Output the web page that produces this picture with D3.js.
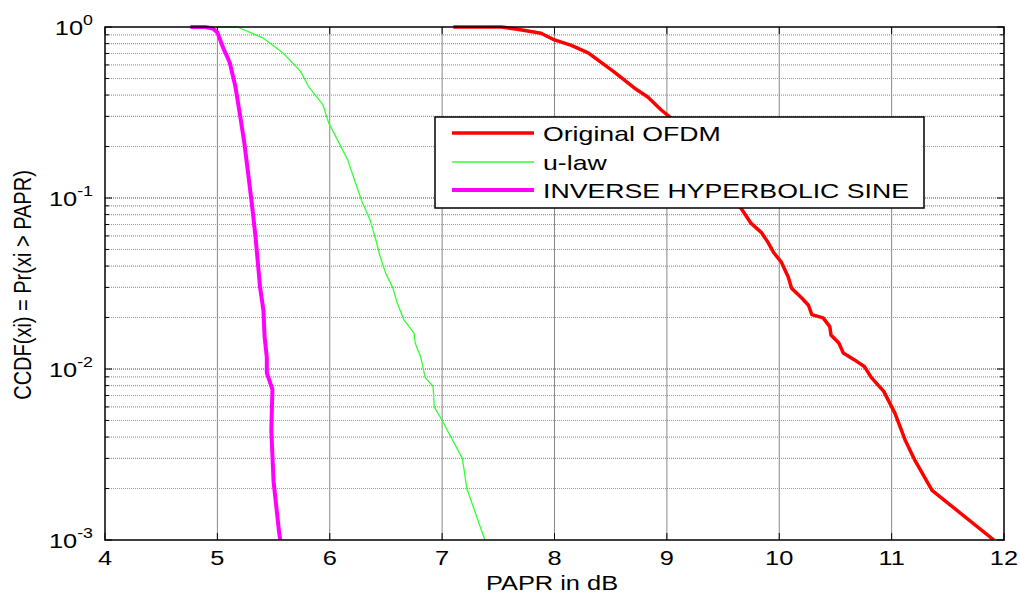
<!DOCTYPE html>
<html><head><meta charset="utf-8">
<script src="https://cdn.jsdelivr.net/npm/d3@7"></script>
<style>body{margin:0;background:#fff}svg{display:block}text{font-family:"Liberation Sans",Arial,sans-serif;fill:#000}</style>
</head><body><svg id="c" width="1020" height="595"></svg>
<script>
const xTicks = [4,5,6,7,8,9,10,11,12];
const yDecades = [0,-1,-2,-3];
const seriesNames = ["Original OFDM","u-law","INVERSE HYPERBOLIC SINE"];
const seriesColors = ["#ff0000","#33ff33","#ff00ff"];
const seriesWidths = [3.5,1.3,4];

const ofdmX = [7.10,7.53,7.67,7.88,8.00,8.15,8.30,8.53,8.62,8.71,8.83,8.95,9.02,9.35,9.66,9.75,9.84,9.90,9.95,10.02,10.08,10.11,10.20,10.26,10.29,10.39,10.45,10.46,10.53,10.57,10.67,10.76,10.82,10.93,11.03,11.12,11.21,11.36,11.91];
const ofdmY = [1,1,0.97,0.92,0.84,0.78,0.705,0.546,0.49,0.44,0.39,0.327,0.30,0.156,0.087,0.071,0.063,0.055,0.048,0.042,0.0345,0.0297,0.026,0.0236,0.0208,0.0199,0.0177,0.0158,0.0142,0.0124,0.0113,0.0103,0.0089,0.0074,0.0055,0.00385,0.0029,0.00195,0.001];

const ulawX = [5.00,5.18,5.41,5.59,5.74,5.81,5.94,5.99,6.07,6.16,6.23,6.29,6.36,6.41,6.45,6.50,6.56,6.60,6.66,6.75,6.76,6.81,6.85,6.92,6.93,7.00,7.18,7.22,7.38];
const ulawY = [1,1,0.86,0.70,0.55,0.45,0.35,0.275,0.218,0.167,0.122,0.094,0.074,0.057,0.045,0.036,0.030,0.0244,0.0194,0.0162,0.0142,0.0117,0.0089,0.0079,0.006,0.005,0.003,0.002,0.001];

const ihsX = [4.76,4.89,4.96,5.00,5.05,5.11,5.16,5.20,5.24,5.27,5.31,5.34,5.36,5.38,5.41,5.42,5.44,5.44,5.49,5.48,5.50,5.55,5.56];
const ihsY = [1,1,0.98,0.93,0.76,0.62,0.45,0.31,0.21,0.146,0.089,0.059,0.042,0.030,0.022,0.0155,0.0117,0.0095,0.0076,0.0044,0.0022,0.0011,0.001];

const svg = d3.select("#c");
const L=105,R=1004,T=27,B=540;
const SX = 1.27;
const x = d3.scaleLinear().domain([4,12]).range([L,R]);
const y = d3.scaleLog().domain([1e-3,1]).range([B,T]);

function stretchedText(parent, px, py, anchor, size){
  return parent.append("text").attr("transform",`translate(${px},${py}) scale(${SX},1)`)
    .attr("text-anchor",anchor).attr("font-size",size);
}

// grid
const minor = [];
yDecades.slice(1).forEach(d=>{for(let m=1;m<=9;m++) minor.push(m*Math.pow(10,d));});
const g = svg.append("g");
g.selectAll("line.hm").data(minor.filter(v=>v<1 && v>1e-3)).join("line")
  .attr("x1",L).attr("x2",R).attr("y1",d=>y(d)).attr("y2",d=>y(d))
  .attr("stroke",d=>Math.abs(Math.log10(d)-Math.round(Math.log10(d)))<1e-9?"#444":"#9a9a9a")
  .attr("stroke-width",1.2).attr("stroke-dasharray","1,1");
g.selectAll("line.v").data(xTicks.slice(1,-1)).join("line")
  .attr("x1",d=>x(d)).attr("x2",d=>x(d)).attr("y1",T).attr("y2",B)
  .attr("stroke","#888").attr("stroke-width",1);

// ticks inside
const tk = svg.append("g").attr("stroke","#000").attr("stroke-width",1);
xTicks.forEach(v=>{tk.append("line").attr("x1",x(v)).attr("x2",x(v)).attr("y1",B).attr("y2",B-7);
  tk.append("line").attr("x1",x(v)).attr("x2",x(v)).attr("y1",T).attr("y2",T+7);});
minor.concat([1]).forEach(v=>{const len=(Math.abs(Math.log10(v)-Math.round(Math.log10(v)))<1e-9)?7:4;
  tk.append("line").attr("x1",L).attr("x2",L+len).attr("y1",y(v)).attr("y2",y(v));
  tk.append("line").attr("x1",R).attr("x2",R-len).attr("y1",y(v)).attr("y2",y(v));});

// lines
svg.append("clipPath").attr("id","clip").append("rect").attr("x",L).attr("y",T-3).attr("width",R-L).attr("height",B-T+3);
const line = d3.line().x(d=>x(d[0])).y(d=>y(d[1]));
const series = [[ofdmX,ofdmY],[ulawX,ulawY],[ihsX,ihsY]];
[1,0,2].forEach(i=>{
  const pts = series[i][0].map((v,k)=>[v,series[i][1][k]]);
  svg.append("path").attr("d",line(pts)).attr("fill","none").attr("stroke",seriesColors[i])
    .attr("stroke-width",seriesWidths[i]).attr("stroke-linejoin","round").attr("clip-path","url(#clip)");
});

// frame
svg.append("rect").attr("x",L).attr("y",T).attr("width",R-L).attr("height",B-T).attr("fill","none").attr("stroke","#000").attr("stroke-width",1.5);

// tick labels
xTicks.forEach(d=>stretchedText(svg, x(d), 565, "middle", 20).text(d));
yDecades.forEach(d=>{
  const t = stretchedText(svg, 93, y(Math.pow(10,d))+8, "end", 20);
  t.append("tspan").text("10");
  t.append("tspan").attr("dy",-10).attr("font-size",14).text(d);
});
stretchedText(svg, 552, 590, "middle", 20).text("PAPR in dB");
svg.append("text").attr("transform","translate(31,285) rotate(-90) scale(1,1.15)").attr("text-anchor","middle").attr("font-size",20).text("CCDF(xi) = Pr(xi > PAPR)");

// legend
const lg = svg.append("g");
lg.append("rect").attr("x",435).attr("y",117).attr("width",489).attr("height",91).attr("fill","#fff").attr("stroke","#000").attr("stroke-width",1.5);
seriesNames.forEach((n,i)=>{
  const yy = Math.round(133 + i*28.5);
  lg.append("line").attr("x1",452).attr("x2",534).attr("y1",yy).attr("y2",yy).attr("stroke",seriesColors[i]).attr("stroke-width",Math.max(seriesWidths[i],1.5));
  stretchedText(lg, 543, yy+8, "start", 21).text(n);
});
</script></body></html>
